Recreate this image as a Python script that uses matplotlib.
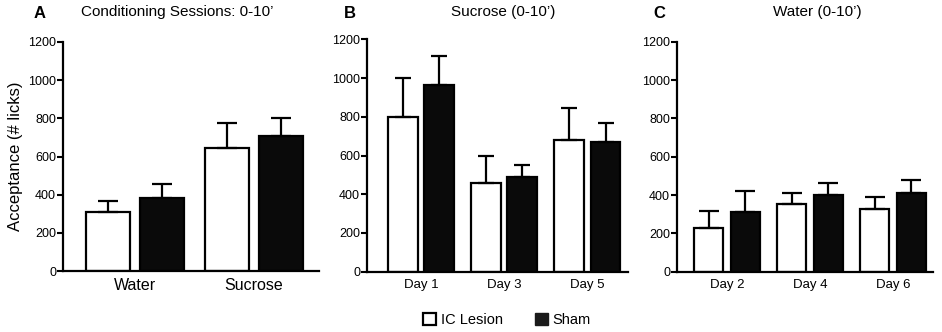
import matplotlib
matplotlib.use('Agg')
import matplotlib.pyplot as plt
import matplotlib.patches as mpatches
import numpy as np

plt.rcParams['font.family'] = ['Liberation Sans', 'DejaVu Sans']

# panel A - conditioning sessions
cond_labels = ['Water', 'Sucrose']
cond_ic = [309, 642]
cond_ic_err = [59, 131]
cond_sham = [382, 707]
cond_sham_err = [75, 94]

# panel B - sucrose days
suc_labels = ['Day 1', 'Day 3', 'Day 5']
suc_ic = [797, 458, 678]
suc_ic_err = [205, 141, 167]
suc_sham = [964, 489, 668]
suc_sham_err = [148, 62, 98]

# panel C - water days
wat_labels = ['Day 2', 'Day 4', 'Day 6']
wat_ic = [230, 351, 327]
wat_ic_err = [85, 58, 64]
wat_sham = [313, 402, 412]
wat_sham_err = [106, 59, 66]

y_ticks = [0, 200, 400, 600, 800, 1000, 1200]

fig = plt.figure(figsize=(9.42, 3.32), dpi=100)


def panel(rect, labels, ic, ic_err, sham, sham_err, width, offs, xlim, capsize, xfs):
	ax = fig.add_axes(rect)
	x = np.arange(len(labels))
	ax.bar(x - offs, ic, width, color='white', edgecolor='black', linewidth=1.6,
		yerr=[np.zeros(len(ic)), ic_err], capsize=capsize,
		error_kw=dict(elinewidth=1.6, capthick=1.6, ecolor='black'), zorder=2)
	ax.bar(x + offs, sham, width, color='#0a0a0a', edgecolor='black', linewidth=1.6,
		yerr=[np.zeros(len(sham)), sham_err], capsize=capsize,
		error_kw=dict(elinewidth=1.6, capthick=1.6, ecolor='black'), zorder=2)
	ax.set_xlim(xlim)
	ax.set_ylim(0, 1200)
	ax.set_yticks(y_ticks)
	ax.tick_params(axis='y', labelsize=9, length=4, width=1.5, pad=1)
	ax.set_xticks(x)
	ax.set_xticklabels(labels, fontsize=xfs)
	ax.tick_params(axis='x', length=0, pad=5)
	for s in ['top', 'right']:
		ax.spines[s].set_visible(False)
	for s in ['left', 'bottom']:
		ax.spines[s].set_linewidth(1.6)
	return ax


axA = panel([0.0669, 0.1837, 0.2718, 0.6898], cond_labels, cond_ic, cond_ic_err,
	cond_sham, cond_sham_err, 0.37, 0.225, (-0.605, 1.546), 7.5, 11.5)
axA.set_ylabel('Acceptance (# licks)', fontsize=12, labelpad=4)
axB = panel([0.3896, 0.1816, 0.2770, 0.7000], suc_labels, suc_ic, suc_ic_err,
	suc_sham, suc_sham_err, 0.36, 0.22, (-0.65, 2.49), 5.5, 9.5)
axC = panel([0.7187, 0.1816, 0.2718, 0.6928], wat_labels, wat_ic, wat_ic_err,
	wat_sham, wat_sham_err, 0.35, 0.22, (-0.60, 2.48), 7.0, 9.5)

# titles and panel letters
fig.text(40 / 942, 1 - 14 / 332, 'A', fontsize=12, fontweight='bold', ha='center', va='center')
fig.text(177 / 942, 1 - 12 / 332, 'Conditioning Sessions: 0-10\u2019', fontsize=11, ha='center', va='center')
fig.text(350 / 942, 1 - 14 / 332, 'B', fontsize=12, fontweight='bold', ha='center', va='center')
fig.text(503 / 942, 1 - 12 / 332, 'Sucrose (0-10\u2019)', fontsize=11, ha='center', va='center')
fig.text(659 / 942, 1 - 14 / 332, 'C', fontsize=12, fontweight='bold', ha='center', va='center')
fig.text(817 / 942, 1 - 12 / 332, 'Water (0-10\u2019)', fontsize=11, ha='center', va='center')

h1 = mpatches.Patch(facecolor='white', edgecolor='black', linewidth=1.6, label='IC Lesion')
h2 = mpatches.Patch(facecolor='#1a1a1a', edgecolor='#1a1a1a', linewidth=1.0, label='Sham')
fig.legend(handles=[h1, h2], loc='center', bbox_to_anchor=(0.538, 0.036), ncol=2,
	frameon=False, fontsize=10.5, handlelength=0.9, handleheight=0.9,
	handletextpad=0.3, columnspacing=2.2)

fig.savefig('out.png', dpi=100)
